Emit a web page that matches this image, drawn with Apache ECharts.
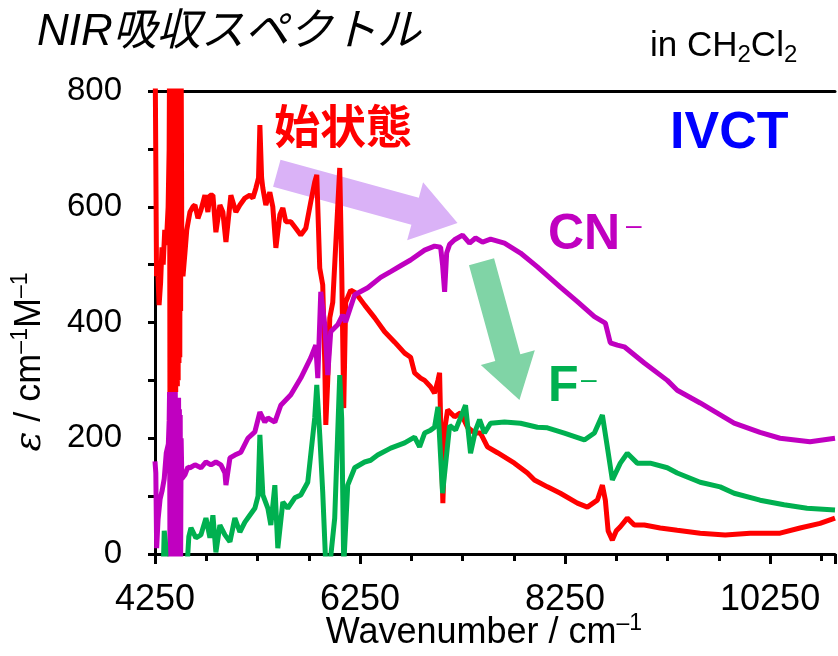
<!DOCTYPE html>
<html>
<head>
<meta charset="utf-8">
<script src="https://cdn.jsdelivr.net/npm/echarts@6/dist/echarts.min.js"></script>
<style>
html,body{margin:0;padding:0;background:#fff;}
#chart{width:838px;height:656px;}
</style>
</head>
<body>
<div id="chart"></div>
<script>
// ---------- data ----------
const xTicksLabelled = [4250, 6250, 8250, 10250];

const redX = [4250,4258,4265,4275,4290,4305,4318,4330,4345,4360,4378,4388,4392,4396,4400,4404,4408,4412,4416,4420,4424,4428,4432,4436,4440,4444,4448,4452,4456,4460,4464,4468,4472,4476,4480,4484,4488,4492,4496,4500,4505,4512,4523,4542,4560,4591,4620,4640,4669,4698,4737,4766,4786,4815,4844,4883,4912,4942,4990,5039,5078,5127,5175,5205,5234,5260,5273,5290,5302,5331,5370,5399,5429,5468,5497,5526,5575,5623,5672,5721,5769,5808,5828,5857,5886,5906,5916,5935,5955,5984,6013,6052,6071,6091,6110,6159,6208,6295,6393,6490,6588,6685,6743,6782,6841,6880,6938,6977,7010,7026,7040,7058,7080,7104,7172,7230,7298,7367,7425,7493,7591,7756,7883,7951,8078,8204,8370,8467,8565,8614,8643,8670,8711,8750,8789,8857,8925,9023,9178,9344,9568,9812,10055,10347,10542,10737,10883];
const redY = [900,900,480,500,430,470,530,500,560,534,600,700,860,200,860,190,860,280,860,300,860,260,860,290,860,300,860,280,860,310,860,290,860,300,860,330,860,340,860,420,860,500,480,520,560,591,600,603,580,594,620,591,620,620,556,603,591,539,620,591,603,615,620,615,632,650,741,650,632,603,625,600,529,586,598,574,574,563,551,563,608,643,655,494,465,330,223,300,408,435,534,667,494,252,435,456,451,430,408,384,366,347,340,313,304,300,289,278,300,313,200,88,220,249,237,244,219,209,209,185,175,157,140,128,116,105,88,81,93,119,93,40,24,40,47,62,50,50,45,41,36,33,36,36,45,53,62];

const cnX = [4250,4258,4266,4280,4300,4320,4340,4360,4380,4388,4392,4396,4400,4404,4408,4412,4416,4420,4424,4428,4432,4436,4440,4444,4448,4452,4456,4460,4464,4468,4472,4476,4480,4484,4488,4492,4496,4500,4505,4512,4523,4542,4571,4591,4640,4698,4747,4796,4844,4893,4932,4942,4981,5029,5088,5156,5224,5273,5321,5351,5419,5477,5575,5672,5769,5818,5838,5867,5906,5935,5964,6032,6081,6110,6198,6325,6451,6549,6646,6743,6880,6977,7036,7055,7075,7095,7124,7172,7250,7318,7377,7445,7523,7659,7815,7980,8204,8370,8536,8643,8691,8760,8828,9023,9247,9344,9568,9899,10152,10347,10639,10883];
const cnY = [160,140,10,60,95,110,130,175,190,230,280,-10,280,-10,270,-10,280,-10,270,-10,280,-10,270,-10,280,-10,270,-10,270,-10,260,-10,270,-10,250,-10,240,-10,200,130,128,137,150,149,154,149,159,154,159,154,140,119,166,171,176,200,211,245,228,235,228,257,275,304,339,361,304,453,396,309,384,396,413,401,448,460,478,488,498,508,525,532,530,500,453,520,535,543,551,537,546,539,544,537,520,496,461,436,410,399,365,361,358,330,300,283,261,226,210,200,194,200];

const fX = [4250,4330,4340,4352,4362,4560,4580,4601,4649,4698,4747,4786,4815,4844,4883,4932,4981,5029,5078,5127,5175,5224,5255,5273,5302,5351,5380,5419,5448,5497,5545,5614,5672,5740,5808,5828,5857,5886,5916,5955,6003,6052,6071,6091,6130,6198,6295,6354,6422,6549,6685,6782,6831,6880,6938,6977,7010,7026,7055,7124,7182,7279,7328,7377,7416,7464,7523,7659,7815,7980,8078,8243,8438,8536,8614,8662,8711,8789,8857,8954,9081,9247,9344,9568,9763,9899,10152,10386,10610,10883];
const fY = [-30,-30,40,20,-30,-30,30,45,28,33,62,28,67,3,50,33,21,62,38,55,67,79,100,206,102,79,50,119,10,90,79,97,102,124,235,292,206,107,-20,-20,62,309,235,-20,119,149,159,162,171,183,192,202,185,209,214,219,254,254,105,222,214,257,174,214,232,209,226,228,226,219,218,209,197,209,240,185,128,157,174,157,157,149,140,124,116,105,93,85,79,76];

// annotation arrows, in data coordinates [wavenumber, epsilon]
const arrowPurple = [[5438, 658], [7201, 572]];
const arrowGreen = [[7435, 505], [7805, 266]];

const zip = (xs, ys) => xs.map((x, i) => [x, ys[i]]);

const chart = echarts.init(document.getElementById('chart'));
const FONT = '"Liberation Sans", Arial, sans-serif';
const JP = '"Liberation Sans", "Noto Sans CJK JP", sans-serif';
const LW = 5;

const option = {
  animation: false,
  backgroundColor: '#fff',
  grid: {left: 155, top: 91, right: 0, bottom: 102, containLabel: false},
  xAxis: [{
    type: 'value', min: 4250, max: 10883, interval: 2000,
    axisLine: {show: true, lineStyle: {color: '#000', width: 3}},
    axisTick: {show: true, length: 10, lineStyle: {color: '#000', width: 3}},
    minorTick: {show: true, splitNumber: 4, length: 7, lineStyle: {color: '#000', width: 3}},
    splitLine: {show: false},
    axisLabel: {
      color: '#000', fontSize: 36, fontFamily: FONT, margin: 28,
      formatter: v => (xTicksLabelled.indexOf(v) >= 0 ? String(v) : '')
    }
  }, {
    type: 'value', min: 4250, max: 10883, position: 'top',
    axisLine: {show: true, onZero: false, lineStyle: {color: '#000', width: 3}},
    axisTick: {show: false}, axisLabel: {show: false}, splitLine: {show: false}
  }],
  yAxis: {
    type: 'value', min: 0, max: 800, interval: 200,
    axisLine: {show: true, lineStyle: {color: '#000', width: 3}},
    axisTick: {show: true, length: 7, lineStyle: {color: '#000', width: 3}},
    minorTick: {show: true, splitNumber: 2, length: 7, lineStyle: {color: '#000', width: 3}},
    splitLine: {show: false},
    axisLabel: {color: '#000', fontSize: 33, fontFamily: FONT, margin: 33}
  },
  series: [
    {type: 'line', data: zip(redX, redY), showSymbol: false, symbol: 'none', z: 3,
     lineStyle: {color: '#ff0000', width: LW}, clip: true},
    {type: 'line', data: zip(cnX, cnY), showSymbol: false, symbol: 'none', z: 4,
     lineStyle: {color: '#c000c0', width: LW}, clip: true},
    {type: 'line', data: zip(fX, fY), showSymbol: false, symbol: 'none', z: 5,
     lineStyle: {color: '#00b050', width: LW}, clip: true}
  ]
};
chart.setOption(option);

function arrowPoints(a, b, shaftW, headW, headL) {
  const p0 = chart.convertToPixel({gridIndex: 0}, a);
  const p1 = chart.convertToPixel({gridIndex: 0}, b);
  const dx = p1[0] - p0[0], dy = p1[1] - p0[1];
  const L = Math.hypot(dx, dy);
  const ux = dx / L, uy = dy / L, nx = -uy, ny = ux;
  const bx = p1[0] - ux * headL, by = p1[1] - uy * headL;
  return [
    [p0[0] + nx * shaftW / 2, p0[1] + ny * shaftW / 2],
    [bx + nx * shaftW / 2, by + ny * shaftW / 2],
    [bx + nx * headW / 2, by + ny * headW / 2],
    [p1[0], p1[1]],
    [bx - nx * headW / 2, by - ny * headW / 2],
    [bx - nx * shaftW / 2, by - ny * shaftW / 2],
    [p0[0] - nx * shaftW / 2, p0[1] - ny * shaftW / 2]
  ];
}

const supStyle = (size, color) => ({fontSize: size, fontFamily: FONT, fill: color, verticalAlign: 'top', lineHeight: 42});

chart.setOption({
  graphic: [
    {type: 'polygon', z: 1, shape: {points: arrowPoints(arrowPurple[0], arrowPurple[1], 28, 60, 44)},
     style: {fill: '#dab2f7'}},
    {type: 'polygon', z: 1, shape: {points: arrowPoints(arrowGreen[0], arrowGreen[1], 26, 56, 44)},
     style: {fill: '#80d4a6'}},
    {type: 'text', left: 37, top: 11, z: 10,
     style: {text: 'NIR吸収スペクトル', font: 'italic 44px ' + JP, fill: '#000'}},
    {type: 'text', left: 650, top: 29, z: 10,
     style: {
       text: '{n|in CH}{s|2}{n|Cl}{s|2}',
       rich: {
         n: {fontSize: 35, fontFamily: FONT, fill: '#000', lineHeight: 42, verticalAlign: 'middle'},
         s: {fontSize: 24, fontFamily: FONT, fill: '#000', lineHeight: 42, verticalAlign: 'bottom'}
       }
     }},
    {type: 'text', left: 274, top: 103, z: 10,
     style: {text: '始状態', font: 'bold 46px "Noto Sans CJK JP", sans-serif', fill: '#ff0000'}},
    {type: 'text', left: 670, top: 108, z: 10,
     style: {text: 'IVCT', font: 'bold 52px ' + FONT, fill: '#0000ff'}},
    {type: 'text', left: 548, top: 210, z: 10,
     style: {text: 'CN', font: 'bold 50px ' + FONT, fill: '#c000c0'}},
    {type: 'text', left: 626, top: 212, z: 10,
     style: {text: '–', font: '28px ' + FONT, fill: '#c000c0'}},
    {type: 'text', left: 548, top: 362, z: 10,
     style: {text: 'F', font: 'bold 50px ' + FONT, fill: '#00b050'}},
    {type: 'text', left: 581, top: 366, z: 10,
     style: {text: '–', font: '28px ' + FONT, fill: '#00b050'}},
    {type: 'text', z: 10, x: 484, y: 633,
     style: {
       text: '{n|Wavenumber / cm}{s|–1}', align: 'center', verticalAlign: 'middle',
       rich: {
         n: {fontSize: 36, fontFamily: FONT, fill: '#000', lineHeight: 42},
         s: supStyle(23, '#000')
       }
     }},
    {type: 'text', z: 10, x: 30, y: 362, rotation: Math.PI / 2,
     style: {
       text: '{e|ε}{n| / cm}{s|–1}{n|M}{s|–1}', align: 'center', verticalAlign: 'middle',
       rich: {
         e: {fontSize: 37, fontFamily: '"DejaVu Serif", serif', fontStyle: 'italic', fill: '#000', lineHeight: 42},
         n: {fontSize: 36, fontFamily: FONT, fill: '#000', lineHeight: 42},
         s: supStyle(23, '#000')
       }
     }}
  ]
});
</script>
</body>
</html>
